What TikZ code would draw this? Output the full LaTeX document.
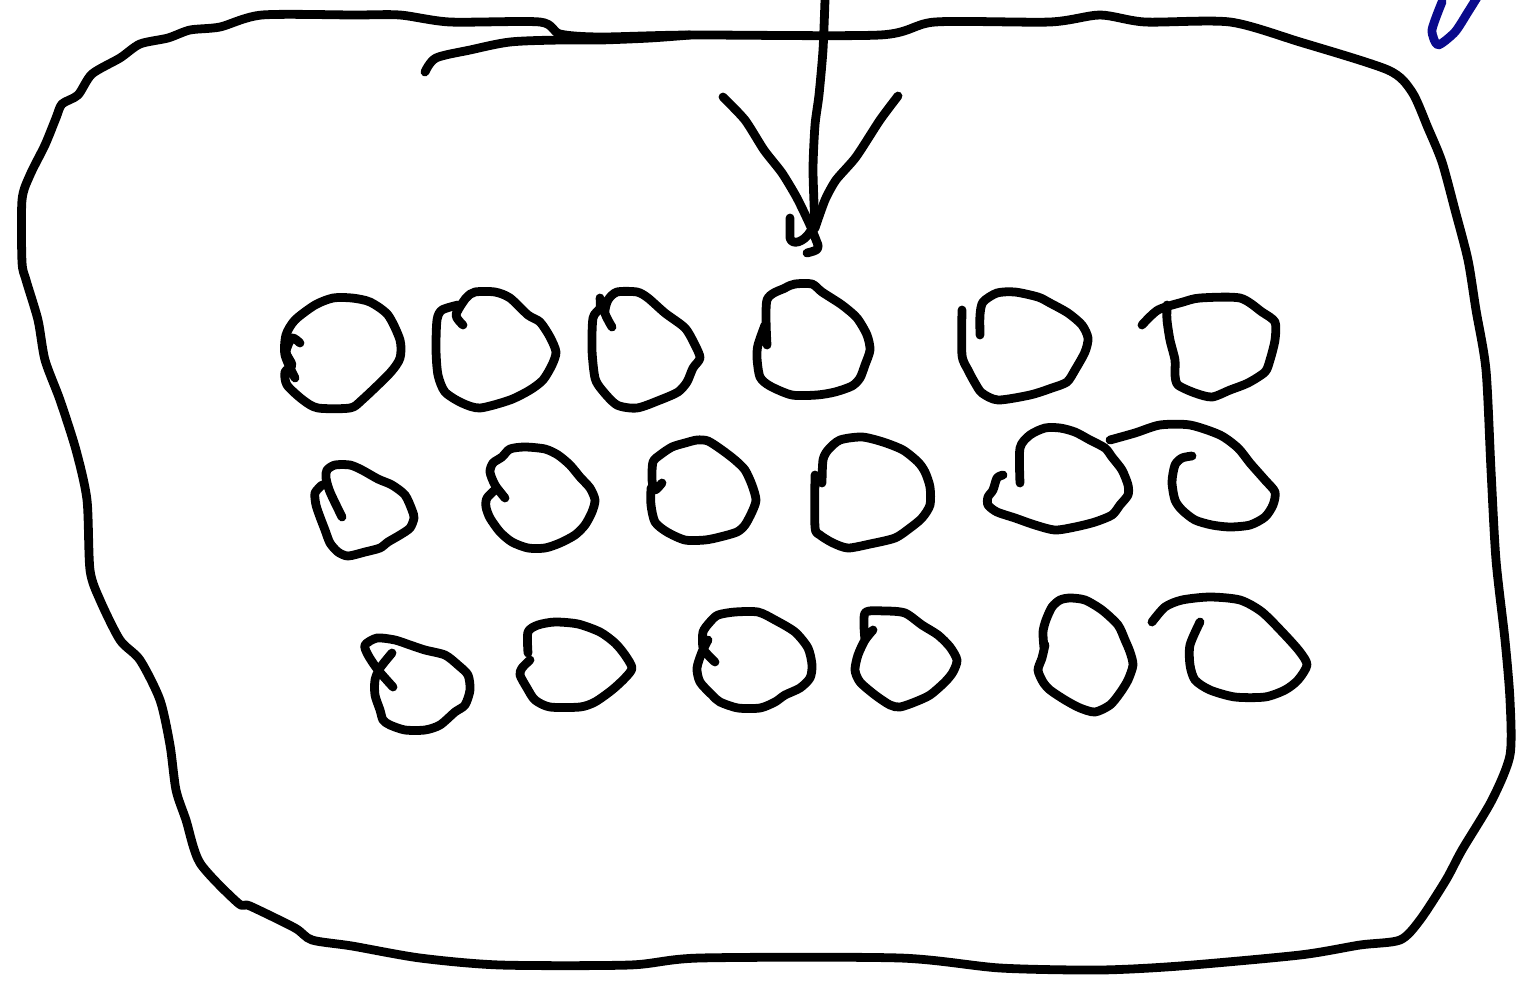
\documentclass[tikz,border=0pt]{standalone}
\usepackage{tikz}
\definecolor{ink}     {HTML}{000000}
\definecolor{penblue} {HTML}{0A0A8C}
\tikzset{
  % --- strokes
  pen/.style    = {draw=ink, line width=2.5pt, line cap=round, line join=round},
  bluepen/.style= {pen, draw=penblue},
  loopy/.style  = {pen, smooth, tension=0.45},
}
\begin{document}
\begin{tikzpicture}[x=0.01cm, y=-0.01cm]
  \useasboundingbox (0,0) rectangle (1517,984);

  % --- the big outline
  \draw[pen] plot[smooth cycle, tension=0.45] coordinates {
    (22,200) (30,175) (45,145) (56,118) (62,104) (78,95) (92,74) (120,58)
    (140,44) (168,38) (190,30) (220,27) (262,15) (355,15) (400,15) (450,22)
    (540,22) (560,34) (600,37) (690,35) (880,35) (935,22) (1050,22) (1100,15)
    (1145,22) (1230,22) (1300,42) (1388,70) (1412,92) (1428,128) (1442,162)
    (1455,210) (1468,260) (1476,310) (1486,370) (1491,470) (1496,560)
    (1505,640) (1510,700) (1510,755) (1492,800) (1462,850) (1446,880)
    (1420,920) (1400,940) (1360,945) (1300,955) (1180,966) (1100,970)
    (1000,968) (900,958) (700,958) (630,965) (500,965) (420,958) (352,946)
    (312,940) (295,928) (250,906) (238,903) (200,863) (186,820) (176,790)
    (170,745) (160,700) (140,660) (120,640) (100,600) (90,570) (87,500)
    (76,450) (60,400) (45,360) (38,320) (26,280) (22,262)};
  \draw[pen] plot[smooth, tension=0.5] coordinates {
    (425,72) (436,58) (470,50) (510,42) (560,40) (600,40) (650,38) (690,35)};

  % --- arrow coming in from the top
  \coordinate (tip) at (815,228);
  \draw[pen] plot[smooth, tension=0.4] coordinates {
    (825,0) (823,50) (819,95) (815,125) (813,170) (tip)};
  \draw[pen] plot[smooth, tension=0.4] coordinates {
    (723,97) (745,120) (764,150) (782,173) (797,198) (810,225) (818,245)};
  \draw[pen] plot[smooth, tension=0.4] coordinates {
    (898,96) (880,120) (856,157) (836,180) (825,200) (tip)};
  \draw[pen] (818,245) .. controls (818,250) .. (807,253);
  \draw[pen] (790,218) -- (790,238) .. controls (792,246) and (804,242) .. (810,232);

  % --- the little blue mark
  \draw[bluepen] plot[smooth, tension=0.4] coordinates {
    (1442,2) (1432,30) (1438,45) (1455,32) (1468,12) (1478,-4)};

  % --- first row of loops
  \draw[loopy] plot coordinates {(300,343) (292,338) (286,352) (292,365) (285,372)
    (287,385) (303,400) (318,408) (350,408) (362,400) (390,373) (400,358)
    (400,340) (388,315) (370,302) (352,298) (333,298) (315,305) (295,320)
    (286,335) (285,355) (295,378)};
  \draw[loopy] plot coordinates {(463,325) (456,315) (466,298) (475,292) (495,292)
    (510,298) (528,315) (540,322) (550,337) (556,352) (552,365) (543,380)
    (530,390) (510,400) (480,408) (462,403) (445,392) (438,375) (436,350)
    (437,320) (442,310) (458,305)};
  \draw[loopy] plot coordinates {(612,327) (605,313) (608,300) (617,292) (637,292)
    (648,298) (665,313) (685,328) (695,345) (700,358) (693,368) (687,382)
    (678,392) (660,400) (637,408) (617,405) (602,390) (595,378) (592,350)
    (593,318) (600,308) (600,298)};
  \draw[loopy] plot coordinates {(767,345) (767,300) (785,288) (795,284) (812,284)
    (822,292) (842,305) (857,318) (867,335) (870,350) (865,365) (860,378)
    (852,386) (835,392) (817,395) (792,395) (770,386) (760,377) (757,358)
    (758,345) (765,325)};
  \draw[loopy] plot coordinates {(962,310) (962,355) (968,370) (975,383) (982,393)
    (998,400) (1030,395) (1052,388) (1067,382) (1075,370) (1085,352) (1088,338)
    (1082,325) (1068,313) (1050,303) (1038,297) (1015,292) (997,293) (983,302)
    (980,315) (980,335)};
  \draw[loopy] plot coordinates {(1142,325) (1158,310) (1183,302) (1200,298)
    (1240,298) (1262,312) (1275,322) (1275,340) (1270,360) (1265,372) (1248,383)
    (1230,390) (1212,397) (1195,393) (1178,385) (1175,375) (1175,360) (1170,340)
    (1167,320) (1167,305)};

  % --- second row of loops
  \draw[loopy] plot coordinates {(342,517) (330,492) (326,478) (327,470) (335,465)
    (350,465) (362,470) (378,479) (392,485) (405,495) (412,510) (414,518)
    (410,528) (400,535) (388,542) (380,548) (365,552) (348,556) (338,552)
    (330,543) (325,530) (320,517) (316,505) (315,493) (322,485)};
  \draw[loopy] plot coordinates {(505,498) (495,485) (490,472) (493,463) (502,457)
    (510,449) (525,447) (545,449) (558,455) (570,465) (580,477) (590,488)
    (595,500) (592,512) (585,525) (575,535) (560,543) (545,548) (528,548)
    (512,542) (500,532) (490,518) (486,507) (487,498) (497,488)};
  \draw[loopy] plot coordinates {(662,483) (655,490) (652,480) (653,462) (660,455)
    (672,447) (685,443) (697,440) (708,441) (722,450) (735,460) (745,470)
    (752,485) (756,500) (752,512) (745,525) (737,532) (720,537) (705,540)
    (685,540) (667,532) (655,522) (651,505) (651,488)};
  \draw[loopy] plot coordinates {(815,475) (815,527) (820,535) (833,543) (848,548)
    (870,544) (895,538) (910,528) (922,518) (930,505) (930,487) (925,472)
    (918,462) (903,450) (883,442) (862,437) (840,440) (828,450) (823,460)
    (822,483)};
  \draw[loopy] plot coordinates {(1003,475) (997,478) (993,490) (988,497) (988,505)
    (997,512) (1015,518) (1035,525) (1055,530) (1075,527) (1095,522) (1112,515)
    (1120,505) (1128,495) (1128,485) (1122,470) (1112,457) (1105,448) (1090,440)
    (1075,432) (1060,428) (1045,428) (1030,435) (1020,448) (1020,483)};
  \draw[loopy] plot coordinates {(1110,440) (1135,433) (1160,425) (1190,425)
    (1220,435) (1238,448) (1250,463) (1265,480) (1275,492) (1273,505) (1265,517)
    (1250,525) (1230,527) (1212,525) (1195,520) (1182,510) (1175,500) (1172,482)
    (1175,465) (1182,458) (1192,456)};

  % --- third row of loops
  \draw[loopy] plot coordinates {(392,653) (380,668) (375,680) (375,695) (380,710)
    (383,720) (390,725) (405,730) (425,730) (440,725) (455,712) (465,705)
    (470,690) (468,675) (458,665) (445,655) (425,650) (410,645) (395,640)
    (377,638) (365,645) (368,655) (378,670) (393,687)};
  \draw[loopy] plot coordinates {(528,653) (528,632) (538,625) (555,622) (578,624)
    (600,632) (615,643) (625,655) (632,668) (625,678) (612,690) (595,702)
    (580,707) (550,707) (535,700) (527,688) (520,675) (522,668) (530,660)};
  \draw[loopy] plot coordinates {(715,662) (708,655) (703,648) (703,632) (710,622)
    (718,615) (735,612) (758,612) (775,620) (795,632) (808,648) (812,665)
    (810,678) (800,688) (785,695) (775,702) (760,708) (738,708) (720,702)
    (712,695) (700,682) (697,668) (702,652) (708,640)};
  \draw[loopy] plot coordinates {(873,630) (865,640) (858,655) (855,670) (860,682)
    (875,695) (890,705) (900,707) (915,702) (930,695) (945,682) (953,672)
    (957,660) (950,647) (938,635) (922,625) (905,613) (885,611) (865,613)
    (865,640)};
  \draw[loopy] plot coordinates {(1044,648) (1043,632) (1046,620)
    (1052,607) (1060,600) (1070,598) (1085,600) (1102,610) (1118,625) (1125,640)
    (1130,652) (1133,665) (1128,680) (1120,693) (1110,705) (1095,712) (1080,708)
    (1065,700) (1050,690) (1043,682) (1038,670) (1042,658) (1045,645)};
  \draw[loopy] plot coordinates {(1152,622) (1165,607) (1182,600) (1210,597)
    (1240,600) (1262,612) (1285,635) (1300,652) (1307,665) (1298,680) (1285,690)
    (1265,697) (1235,697) (1210,690) (1195,680) (1190,665) (1190,645) (1200,622)};
\end{tikzpicture}
\end{document}
